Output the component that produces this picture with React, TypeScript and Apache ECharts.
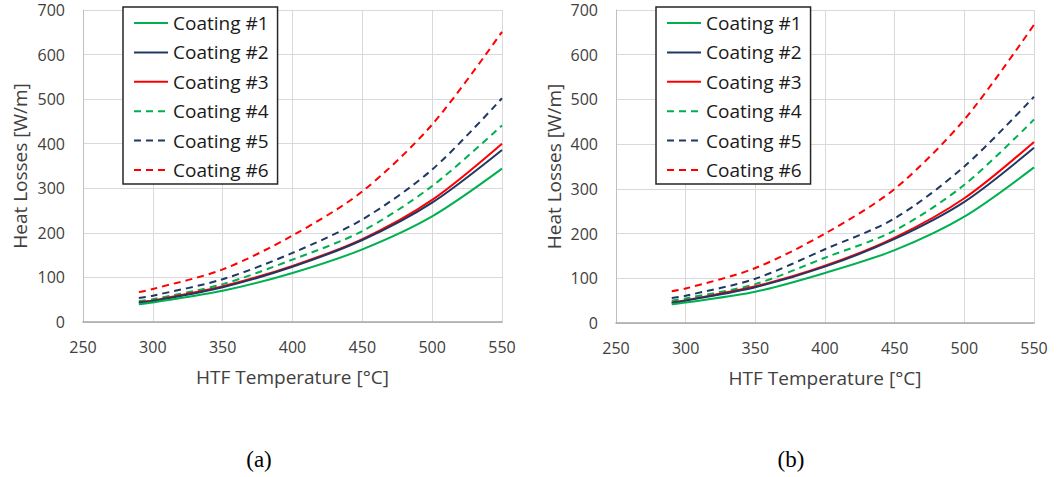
import React, { useEffect, useRef } from "react";
import * as echarts from "echarts";

const temps = [290, 300, 350, 400, 450, 500, 550];
const names = ["Coating #1", "Coating #2", "Coating #3", "Coating #4", "Coating #5", "Coating #6"];
const xTicks = [250, 300, 350, 400, 450, 500, 550];
const yTicks = [0, 100, 200, 300, 400, 500, 600, 700];

// (a)
const a1 = [40, 44, 70, 110, 163, 237, 344];
const a2 = [43, 47, 78, 124, 184, 268, 386];
const a3 = [44, 48, 80, 126, 186, 274, 400];
const a4 = [47, 51, 85, 140, 204, 305, 441];
const a5 = [54, 59, 96, 155, 230, 342, 502];
const a6 = [67, 74, 118, 194, 293, 443, 651];
// (b)
const b1 = [42, 46, 70, 112, 163, 238, 348];
const b2 = [45, 50, 80, 126, 188, 271, 392];
const b3 = [46, 51, 82, 128, 191, 279, 405];
const b4 = [50, 55, 87, 146, 207, 309, 455];
const b5 = [56, 61, 99, 165, 234, 350, 506];
const b6 = [71, 77, 123, 200, 300, 455, 667];

const panelLabels = ["(a)", "(b)"];

const colors = ["#00B050", "#1F3864", "#FF0000", "#00B050", "#1F3864", "#FF0000"];
const dashed = [false, false, false, true, true, true];

const FONT = "Open Sans";
const LABEL = "#404040";

export default function App() {
  const ref = useRef<HTMLDivElement>(null);
  useEffect(() => {
    document.body.style.margin = "0";
    const chart = echarts.init(ref.current!, undefined, { renderer: "svg" });
    const sets = [
      [a1, a2, a3, a4, a5, a6],
      [b1, b2, b3, b4, b5, b6],
    ];
    const grids = [
      { left: 83, top: 10, width: 419, height: 312 },
      { left: 616, top: 10, width: 418, height: 313 },
    ];
    const xAxes = grids.map((_, i) => ({
      type: "value",
      gridIndex: i,
      min: 250,
      max: 550,
      interval: 50,
      name: "HTF Temperature [°C]",
      nameLocation: "middle",
      nameGap: 45,
      nameTextStyle: { fontFamily: FONT, fontSize: 19, color: LABEL },
      axisLine: { show: true, lineStyle: { color: "#a6a6a6", width: 1.5 } },
      axisTick: { show: false },
      axisLabel: { margin: 17, fontFamily: FONT, fontSize: 16, color: LABEL, formatter: (v: number) => (xTicks.includes(v) ? String(v) : "") },
      splitLine: { show: true, lineStyle: { color: "#d9d9d9", width: 1 } },
    }));
    const yAxes = grids.map((_, i) => ({
      type: "value",
      gridIndex: i,
      min: 0,
      max: 700,
      interval: 100,
      name: "Heat Losses [W/m]",
      nameLocation: "middle",
      nameGap: i === 0 ? 54 : 53,
      nameTextStyle: { fontFamily: FONT, fontSize: 19, color: LABEL },
      axisLine: { show: true, lineStyle: { color: "#bfbfbf", width: 1 } },
      axisTick: { show: false },
      axisLabel: { margin: 18, fontFamily: FONT, fontSize: 16, color: LABEL, formatter: (v: number) => (yTicks.includes(v) ? String(v) : "") },
      splitLine: { show: true, lineStyle: { color: "#d9d9d9", width: 1 } },
    }));
    const series: any[] = [];
    sets.forEach((set, gi) => {
      set.forEach((vals, si) => {
        series.push({
          type: "line",
          name: names[si],
          xAxisIndex: gi,
          yAxisIndex: gi,
          data: temps.map((t, k) => [t, vals[k]]),
          smooth: 0.3,
          symbol: "none",
          showSymbol: false,
          lineStyle: { color: colors[si], width: 2, type: dashed[si] ? [7, 5] : "solid" },
          itemStyle: { color: colors[si] },
          z: 10 - si,
        });
      });
    });
    const legendBase = {
      orient: "vertical",
      top: 7,
      padding: [6, 9, 4, 10],
      itemGap: 9.4,
      itemWidth: 34,
      itemHeight: 20,
      borderColor: "#262626",
      borderWidth: 1.5,
      backgroundColor: "#ffffff",
      data: names,
      itemStyle: { opacity: 0 },
      textStyle: { fontFamily: FONT, fontSize: 19, color: "#1a1a1a", lineHeight: 20 },
      selectedMode: false,
    };
    chart.setOption({
      animation: false,
      backgroundColor: "#ffffff",
      grid: grids,
      xAxis: xAxes,
      yAxis: yAxes,
      legend: [
        { ...legendBase, left: 123 },
        { ...legendBase, left: 656 },
      ],
      series,
      graphic: [
        { type: "text", x: 259, y: 459, style: { text: panelLabels[0], fontFamily: "Liberation Serif", fontSize: 23, fill: "#000", align: "center", verticalAlign: "middle" } },
        { type: "text", x: 791, y: 459, style: { text: panelLabels[1], fontFamily: "Liberation Serif", fontSize: 23, fill: "#000", align: "center", verticalAlign: "middle" } },
      ],
    });
    return () => chart.dispose();
  }, []);
  return <div ref={ref} style={{ width: 1057, height: 477 }} />;
}
